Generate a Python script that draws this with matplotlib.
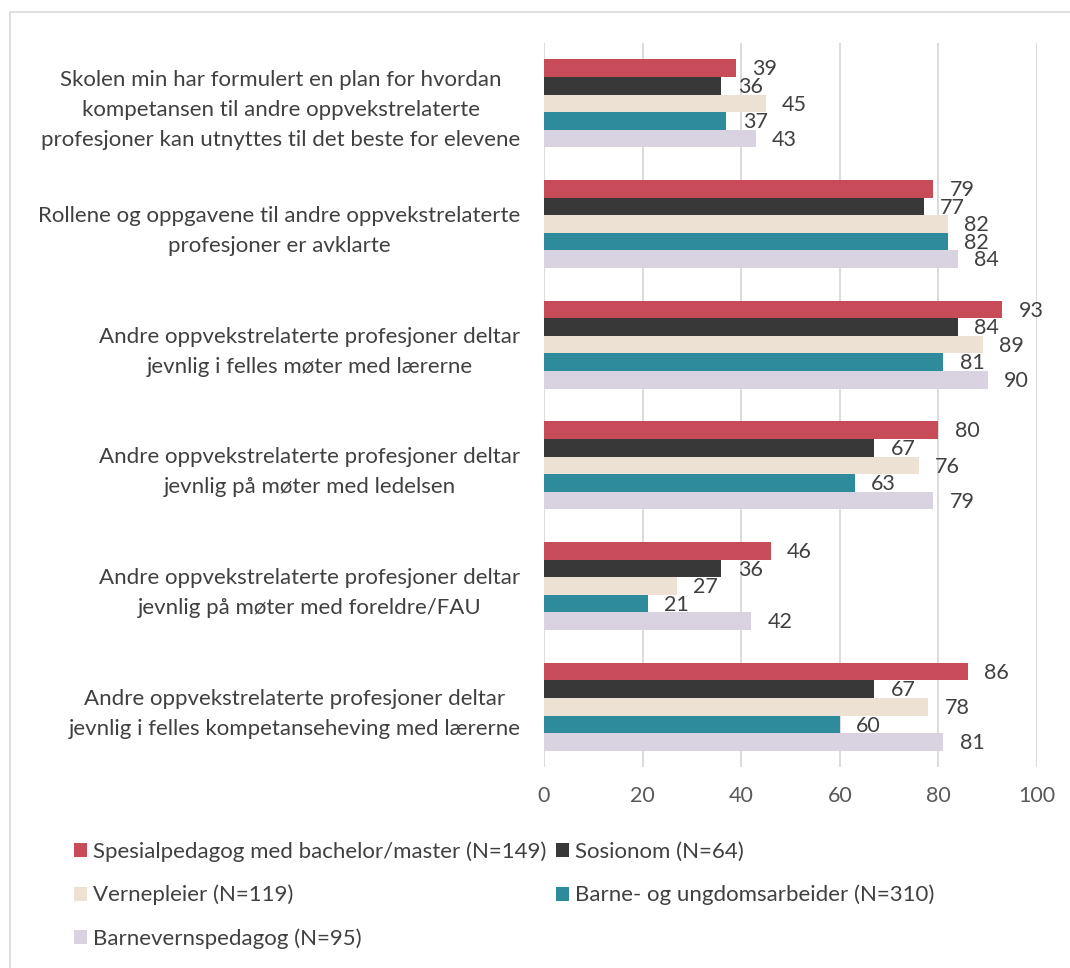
import numpy as np
import matplotlib.pyplot as plt
from matplotlib.patches import Rectangle

plt.rcParams['font.family'] = ['Lato', 'DejaVu Sans']

categories = [
    "Skolen min har formulert en plan for hvordan\nkompetansen til andre oppvekstrelaterte\nprofesjoner kan utnyttes til det beste for elevene",
    "Rollene og oppgavene til andre oppvekstrelaterte\nprofesjoner er avklarte",
    "Andre oppvekstrelaterte profesjoner deltar\njevnlig i felles møter med lærerne",
    "Andre oppvekstrelaterte profesjoner deltar\njevnlig på møter med ledelsen",
    "Andre oppvekstrelaterte profesjoner deltar\njevnlig på møter med foreldre/FAU",
    "Andre oppvekstrelaterte profesjoner deltar\njevnlig i felles kompetanseheving med lærerne",
]

series_names = [
    "Spesialpedagog med bachelor/master (N=149)",
    "Sosionom (N=64)",
    "Vernepleier (N=119)",
    "Barne- og ungdomsarbeider (N=310)",
    "Barnevernspedagog (N=95)",
]

spesialpedagog = [39, 79, 93, 80, 46, 86]
sosionom = [36, 77, 84, 67, 36, 67]
vernepleier = [45, 82, 89, 76, 27, 78]
barne_ungdom = [37, 82, 81, 63, 21, 60]
barnevern = [43, 84, 90, 79, 42, 81]

values = [spesialpedagog, sosionom, vernepleier, barne_ungdom, barnevern]
colors = ['#C84B5A', '#383838', '#EDE1D3', '#2E8B9C', '#D9D2E0']

text_color = '#404040'
tick_color = '#595959'

fig = plt.figure(figsize=(10.7, 9.68), dpi=100)
fig.patches.append(Rectangle((0.009, -0.01), 1.2, 0.998, transform=fig.transFigure,
                             fill=False, edgecolor='#D9D9D9', linewidth=1.2))

ax = fig.add_axes([0.5084, 0.2076, 0.4607, 0.748])

n_cat = len(categories)
bar_h = 0.146
y_base = np.arange(n_cat)

for i, (vals, col, name) in enumerate(zip(values, colors, series_names)):
    ys = y_base + (i - 2) * bar_h
    ax.barh(ys, vals, height=bar_h, color=col, label=name, zorder=3)
    for y, v in zip(ys, vals):
        ax.text(v + 3.3, y + 0.01, str(v), va='center', ha='left',
                fontsize=15.5, color=text_color, zorder=4)

ax.set_ylim(n_cat - 0.5, -0.5)
ax.set_xlim(0, 100)
ax.set_xticks(range(0, 101, 20))
ax.xaxis.grid(True, color='#D9D9D9', linewidth=1.3, zorder=0)
ax.set_axisbelow(True)
for s in ax.spines.values():
    s.set_visible(False)
ax.tick_params(axis='x', length=0, labelsize=15.5, labelcolor=tick_color, pad=14)
ax.tick_params(axis='y', length=0, pad=17)
ax.set_yticks(y_base)
ax.set_yticklabels(categories, fontsize=16, color=text_color,
                   multialignment='center', linespacing=1.63)

# legend filled row by row, like the original
handles, labels = ax.get_legend_handles_labels()
order = [0, 2, 4, 1, 3]
leg = fig.legend([handles[k] for k in order], [labels[k] for k in order],
                 ncol=2, loc='upper left',
                 bbox_to_anchor=(0.069, 0.131), frameon=False,
                 fontsize=16, handlelength=0.6, handleheight=0.6,
                 handletextpad=0.25, columnspacing=0.45, labelspacing=1.04,
                 borderaxespad=0, borderpad=0)
for t in leg.get_texts():
    t.set_color(text_color)

fig.savefig('out.png', dpi=100)
